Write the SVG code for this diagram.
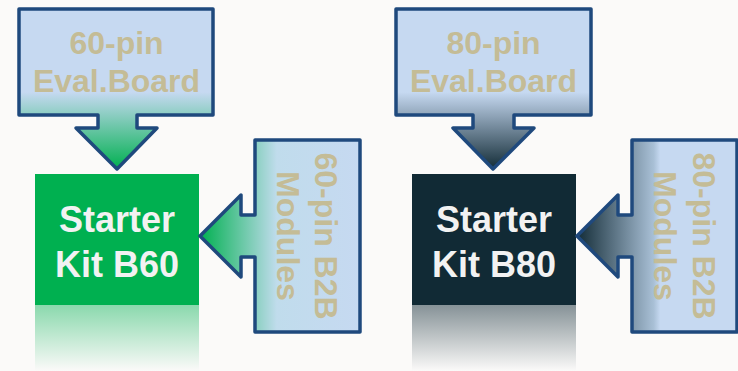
<svg xmlns="http://www.w3.org/2000/svg" width="738" height="371" viewBox="0 0 738 371">
<defs>
<linearGradient id="gTopG" gradientUnits="userSpaceOnUse" x1="0" y1="9" x2="0" y2="169">
<stop offset="0" stop-color="#C6D9F1"/><stop offset="0.52" stop-color="#C6D9F1"/><stop offset="1" stop-color="#00B050"/>
</linearGradient>
<linearGradient id="gTopD" gradientUnits="userSpaceOnUse" x1="0" y1="9" x2="0" y2="169">
<stop offset="0" stop-color="#C6D9F1"/><stop offset="0.52" stop-color="#C6D9F1"/><stop offset="1" stop-color="#132C37"/>
</linearGradient>
<linearGradient id="gSideG" gradientUnits="userSpaceOnUse" x1="200" y1="0" x2="360" y2="0">
<stop offset="0" stop-color="#00B050"/><stop offset="0.48" stop-color="#C0DCEC"/><stop offset="1" stop-color="#C6D9F1"/>
</linearGradient>
<linearGradient id="gSideD" gradientUnits="userSpaceOnUse" x1="577" y1="0" x2="737" y2="0">
<stop offset="0" stop-color="#132C37"/><stop offset="0.48" stop-color="#A9C0D6"/><stop offset="0.52" stop-color="#C6D9F1"/><stop offset="1" stop-color="#C6D9F1"/>
</linearGradient>
<linearGradient id="gReflG" x1="0" y1="0" x2="0" y2="1">
<stop offset="0" stop-color="#00B050" stop-opacity="0.45"/><stop offset="1" stop-color="#00B050" stop-opacity="0"/>
</linearGradient>
<linearGradient id="gReflD" x1="0" y1="0" x2="0" y2="1">
<stop offset="0" stop-color="#112A35" stop-opacity="0.5"/><stop offset="1" stop-color="#112A35" stop-opacity="0"/>
</linearGradient>
</defs>
<style>
.callout{stroke:#1F497D;stroke-width:3.5;stroke-linejoin:round}
.lbl{font-family:"Liberation Sans",Arial,sans-serif;font-weight:bold;font-size:32px;fill:#C4BC96;text-anchor:middle}
.kit{font-family:"Liberation Sans",Arial,sans-serif;font-weight:bold;font-size:36px;fill:#F2F2F2;text-anchor:middle}
</style>
<rect width="738" height="371" fill="#FBFAF9"/>

<g id="kit-b60">
<rect x="35" y="305" width="164" height="66" fill="url(#gReflG)"/>
<rect x="35" y="174" width="164" height="131" fill="#00B050"/>
<text class="kit" x="117" y="232">Starter</text>
<text class="kit" x="117" y="277">Kit B60</text>
</g>

<g id="kit-b80">
<rect x="412" y="305" width="164" height="66" fill="url(#gReflD)"/>
<rect x="412" y="174" width="164" height="131" fill="#112A35"/>
<text class="kit" x="494" y="232">Starter</text>
<text class="kit" x="494" y="277">Kit B80</text>
</g>

<g id="eval-60">
<path class="callout" fill="url(#gTopG)" d="M19,9 H213 V115 H137 V128 H157 L117,169 L76,128 H98 V115 H19 Z"/>
<text class="lbl" x="116.5" y="54">60-pin</text>
<text class="lbl" x="116.5" y="92">Eval.Board</text>
</g>

<g id="eval-80">
<path class="callout" fill="url(#gTopD)" d="M396,9 H591 V115 H514 V128 H534 L493,169 L453,128 H473 V115 H396 Z"/>
<text class="lbl" x="493.5" y="54">80-pin</text>
<text class="lbl" x="493.5" y="92">Eval.Board</text>
</g>

<g id="b2b-60">
<path class="callout" fill="url(#gSideG)" d="M255,140 H360 V332 H255 V257 H241 V277 L200,236 L241,195 V215 H255 Z"/>
<text class="lbl" transform="translate(315,236) rotate(90)">60-pin B2B</text>
<text class="lbl" transform="translate(277,236) rotate(90)">Modules</text>
</g>

<g id="b2b-80">
<path class="callout" fill="url(#gSideD)" d="M632,140 H737 V332 H632 V257 H618 V277 L577,236 L618,195 V215 H632 Z"/>
<text class="lbl" transform="translate(693,236) rotate(90)">80-pin B2B</text>
<text class="lbl" transform="translate(654,236) rotate(90)">Modules</text>
</g>
</svg>
